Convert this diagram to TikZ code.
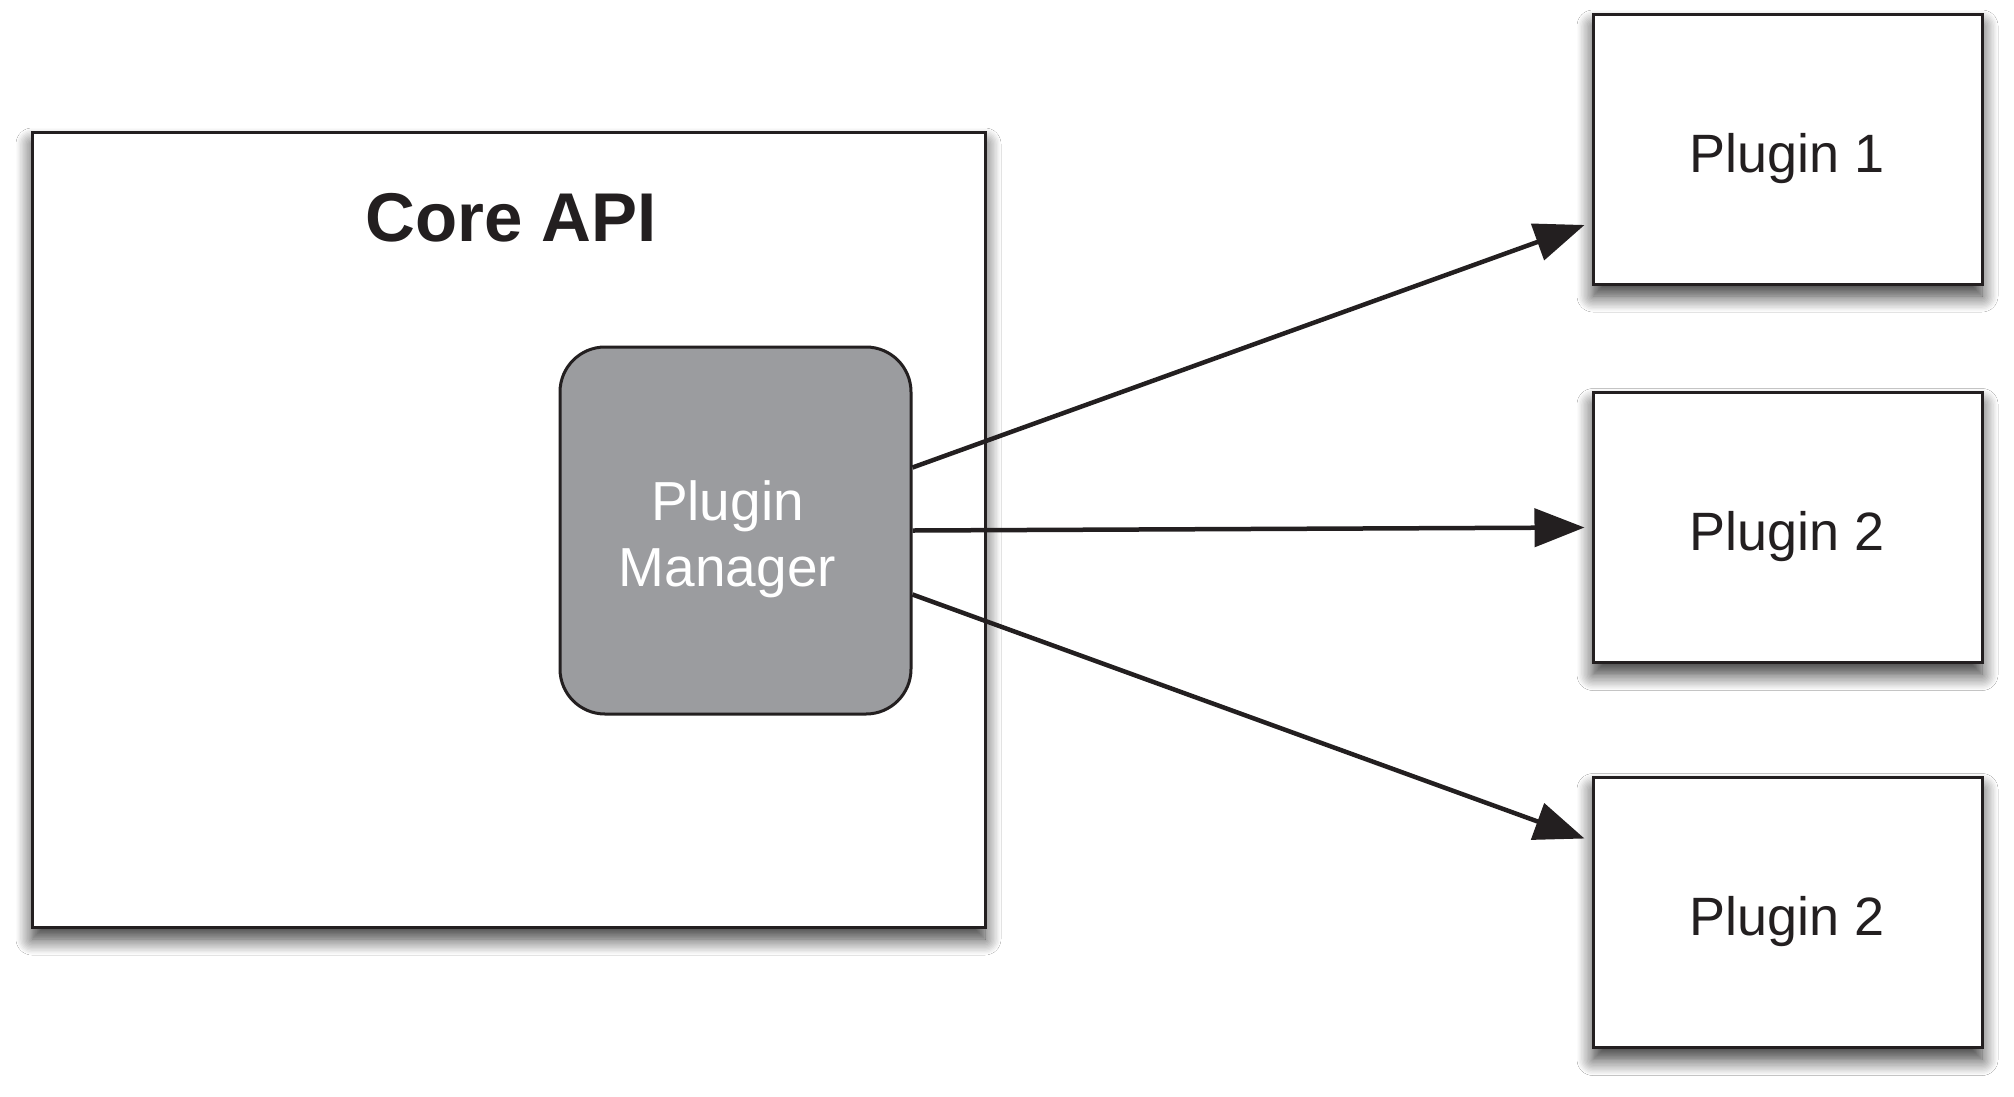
\documentclass[tikz,border=0pt]{standalone}
\usepackage{fontspec}
\setmainfont{Liberation Sans}
\usetikzlibrary{arrows.meta,shadows.blur}
\definecolor{ink}{HTML}{231F20}
\definecolor{pmgray}{HTML}{9B9C9F}
\tikzset{
  shadowed/.style={blur shadow={shadow xshift=0pt, shadow yshift=-12pt, shadow blur radius=16pt, shadow blur steps=12, shadow opacity=80}},
  bigbox/.style={draw=ink, line width=3pt, fill=white, shadowed},
  plugbox/.style={draw=ink, line width=3pt, fill=white, shadowed, minimum width=389pt, minimum height=270pt, inner sep=0pt,
    font=\fontsize{54}{60}\selectfont, text=ink, text height=57pt, text depth=11pt},
  mgrbox/.style={draw=ink, line width=3pt, fill=pmgray, rounded corners=45pt, minimum width=351pt, minimum height=367pt,
    inner sep=0pt},
  mgrtext/.style={align=center, text=white, font=\fontsize{55}{66}\selectfont, inner sep=0pt},
  conn/.style={draw=ink, line width=4.5pt, -{Triangle[length=50pt, width=38pt]}}
}
\begin{document}
\begin{tikzpicture}[x=1pt,y=-1pt]
\useasboundingbox[fill=white] (0,0) rectangle (2014,1096);
\node[bigbox, minimum width=953pt, minimum height=795pt, inner sep=0pt] (core) at (508.5,529.5) {};
\node[anchor=base, text=ink, font=\fontsize{69}{72}\selectfont\bfseries] (title) at (511,241) {Core API};
\node[mgrbox] (pm) at (735.5,530.5) {};
\node[mgrtext] (pmlabel) at ([xshift=-8pt,yshift=-9pt]pm.center) {Plugin\\Manager};
\node[plugbox] (p1) at (1787.5,149) {Plugin 1};
\node[plugbox] (p2) at (1787.5,527.5) {Plugin 2};
\node[plugbox] (p3) at (1787.5,912.5) {Plugin 2};
\draw[conn] ([yshift=63pt]pm.east) -- ([xshift=-7pt,yshift=-76pt]p1.west);
\draw[conn] (pm.east) -- ([xshift=-7pt]p2.west);
\draw[conn] ([yshift=-64pt]pm.east) -- ([xshift=-7pt,yshift=74pt]p3.west);
\end{tikzpicture}
\end{document}
